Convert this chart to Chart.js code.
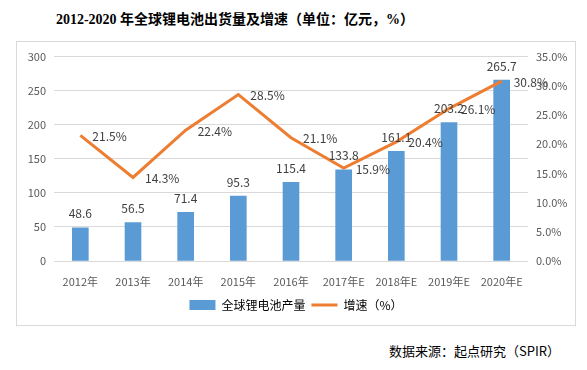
<!DOCTYPE html>
<html>
<head>
<meta charset="utf-8">
<script src="https://cdn.jsdelivr.net/npm/chart.js@4"></script>
<style>
  body { margin: 0; background: #fff; width: 587px; height: 370px; position: relative; overflow: hidden; }
  #title { position: absolute; left: 0; width: 470px; top: 8px; text-align: center;
    font: bold 14px "Liberation Serif", "Noto Sans CJK SC", serif; color: #000; }
  #box { position: absolute; left: 16px; top: 41px; width: 558px; height: 283px; border: 1px solid #d9d9d9; }
  #source { position: absolute; left: 389px; top: 341px; font: 13px "Noto Sans CJK SC", sans-serif; color: #000; }
</style>
</head>
<body>
<div id="title">2012-2020 年全球锂电池出货量及增速（单位：亿元，%）</div>
<div id="box"><canvas id="chart" width="558" height="283"></canvas></div>
<div id="source">数据来源：起点研究（SPIR）</div>
<script>
  var years = ["2012年", "2013年", "2014年", "2015年", "2016年", "2017年E", "2018年E", "2019年E", "2020年E"];
  var output = [48.6, 56.5, 71.4, 95.3, 115.4, 133.8, 161.1, 203.2, 265.7];
  var growth = [21.5, 14.3, 22.4, 28.5, 21.1, 15.9, 20.4, 26.1, 30.8];

  var tickFont = { family: "'Noto Sans CJK SC', sans-serif", size: 11 };

  var valueLabels = {
    id: "valueLabels",
    afterDatasetsDraw: function (chart) {
      var ctx = chart.ctx;
      ctx.save();
      ctx.font = "12px 'Noto Sans CJK SC', sans-serif";
      ctx.fillStyle = "#404040";
      ctx.textBaseline = "middle";
      chart.getDatasetMeta(0).data.forEach(function (bar, i) {
        ctx.textAlign = "center";
        ctx.fillText(output[i].toFixed(1), bar.x, bar.y - 14);
      });
      chart.getDatasetMeta(1).data.forEach(function (pt, i) {
        ctx.textAlign = "left";
        ctx.fillText(growth[i].toFixed(1) + "%", pt.x + 12, pt.y + 1);
      });
      ctx.restore();
    }
  };

  new Chart(document.getElementById("chart"), {
    data: {
      labels: years,
      datasets: [
        {
          type: "bar",
          label: "全球锂电池产量",
          data: output,
          backgroundColor: "#5b9bd5",
          barThickness: 16,
          yAxisID: "y",
          order: 2
        },
        {
          type: "line",
          label: "增速（%）",
          data: growth,
          borderColor: "#ed7d31",
          backgroundColor: "#ed7d31",
          borderWidth: 3,
          pointRadius: 0,
          tension: 0,
          yAxisID: "y1",
          order: 1
        }
      ]
    },
    options: {
      responsive: false,
      animation: false,
      layout: { padding: { top: 14, bottom: 4 } },
      plugins: {
        tooltip: { enabled: false },
        legend: {
          position: "bottom",
          labels: {
            color: "#595959",
            font: { family: "'Noto Sans CJK SC', sans-serif", size: 12 },
            usePointStyle: true,
            pointStyleWidth: 26,
            boxHeight: 10,
            padding: 6,
            generateLabels: function (chart) {
              return chart.data.datasets.map(function (ds, i) {
                return {
                  text: ds.label,
                  fillStyle: ds.backgroundColor,
                  strokeStyle: ds.type === "line" ? ds.borderColor : ds.backgroundColor,
                  lineWidth: ds.type === "line" ? 3 : 0,
                  pointStyle: ds.type === "line" ? "line" : "rect",
                  datasetIndex: i
                };
              });
            }
          }
        }
      },
      scales: {
        x: {
          grid: { display: false },
          border: { display: false },
          ticks: { color: "#595959", font: tickFont, maxRotation: 0, padding: 6 },
          afterFit: function (s) { s.height = 32; }
        },
        y: {
          position: "left",
          min: 0,
          max: 300,
          ticks: { stepSize: 50, color: "#595959", font: tickFont, padding: 8 },
          grid: { color: "#d9d9d9", drawTicks: false },
          border: { display: false },
          afterFit: function (s) { s.width = 37; }
        },
        y1: {
          position: "right",
          min: 0,
          max: 35,
          ticks: {
            stepSize: 5,
            color: "#595959",
            font: tickFont,
            padding: 8,
            callback: function (v) { return v.toFixed(1) + "%"; }
          },
          grid: { display: false, drawTicks: false },
          border: { display: false },
          afterFit: function (s) { s.width = 47; }
        }
      }
    },
    plugins: [valueLabels]
  });
</script>
</body>
</html>
